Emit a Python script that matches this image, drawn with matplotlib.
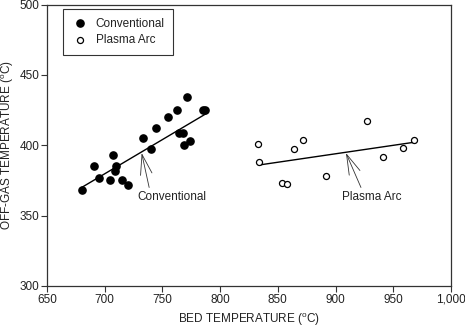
import matplotlib
matplotlib.use("Agg")
import matplotlib.pyplot as plt
import numpy as np

plt.rcParams['font.family'] = ['Liberation Sans', 'DejaVu Sans']
plt.rcParams['mathtext.fontset'] = 'custom'
plt.rcParams['mathtext.rm'] = 'Liberation Sans'

# Data
conv_x = [680, 691, 695, 707, 705, 710, 709, 715, 720, 733, 740, 744, 755, 763, 771, 764, 768, 769, 774, 785, 787]
conv_y = [368, 385, 377, 393, 375, 385, 382, 375, 372, 405, 397, 412, 420, 425, 434, 409, 409, 400, 403, 425, 425]
plasma_x = [833, 834, 854, 858, 864, 872, 892, 927, 941, 958, 968]
plasma_y = [401, 388, 373.5, 372.5, 397, 404, 378, 417, 392, 398, 404]
conv_line_x = [680, 788]
conv_line_y = [370, 422.5]
plasma_line_x = [834, 967]
plasma_line_y = [386, 402]
x_ticks = [650, 700, 750, 800, 850, 900, 950, 1000]
x_tick_labels = ['650', '700', '750', '800', '850', '900', '950', '1,000']
y_ticks = [300, 350, 400, 450, 500]

fs = 8.5
txt = '#222222'

fig = plt.figure(figsize=(4.65, 3.27), dpi=100)
ax = fig.add_axes([47/465, 1-286/327, 404/465, 281.5/327])

ax.plot(conv_line_x, conv_line_y, color='black', lw=1.0, zorder=2)
ax.plot(plasma_line_x, plasma_line_y, color='black', lw=1.0, zorder=2)
ax.scatter(conv_x, conv_y, s=27, color='black', label='Conventional', zorder=3)
ax.scatter(plasma_x, plasma_y, s=19, facecolor='white', edgecolor='black', linewidth=0.9,
           label='Plasma Arc', zorder=3)

arrow = dict(arrowstyle='->,head_length=1.45,head_width=0.42', lw=0.6, color='#333333',
             shrinkA=0, shrinkB=0)
ax.annotate('', xy=(732, 394.5), xytext=(738.5, 370), arrowprops=arrow)
ax.annotate('', xy=(909, 394.5), xytext=(922, 370), arrowprops=arrow)
ax.text(758, 363.5, 'Conventional', fontsize=fs, color=txt, ha='center', va='center')
ax.text(931, 363.5, 'Plasma Arc', fontsize=fs, color=txt, ha='center', va='center')

ax.set_xlim(650, 1000)
ax.set_ylim(300, 500)
ax.set_xticks(x_ticks)
ax.set_xticklabels(x_tick_labels)
ax.set_yticks(y_ticks)
ax.tick_params(direction='out', length=4, width=0.8, labelsize=fs, colors='#333333',
               labelcolor=txt, pad=1.5)
for s in ax.spines.values():
    s.set_linewidth(0.9)
    s.set_color('#333333')

ax.set_xlabel(r'BED TEMPERATURE ($\mathregular{^o}$C)', fontsize=fs, color=txt, labelpad=4)
fig.text(7.5/465, 1-145/327, r'OFF-GAS TEMPERATURE ($\mathregular{^o}$C)', fontsize=fs,
         color=txt, rotation=90, ha='center', va='center')

leg = ax.legend(loc='upper left', bbox_to_anchor=(0.039, 0.983), borderaxespad=0,
                fontsize=fs, frameon=True, fancybox=False, edgecolor='black',
                handletextpad=0.6, borderpad=0.7, labelspacing=0.4, handlelength=1.5)
leg.get_frame().set_linewidth(0.8)
for t in leg.get_texts():
    t.set_color(txt)

fig.savefig('out.png', dpi=100)
